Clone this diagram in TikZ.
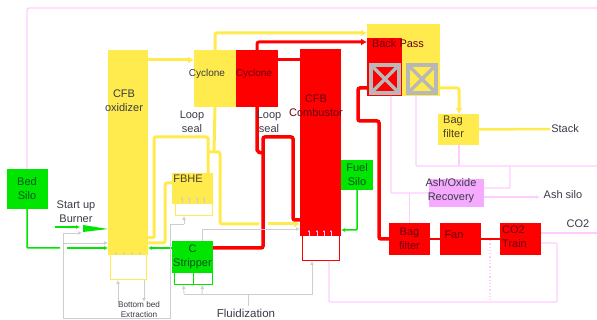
\documentclass[tikz,border=0pt]{standalone}
\usepackage{xcolor}
\usepackage{fontspec}
\usetikzlibrary{arrows.meta}
\setmainfont{Liberation Sans}
\definecolor{pipeyellow}{HTML}{FFEB4D}
\definecolor{pipered}{HTML}{FF0000}
\definecolor{pipegreen}{HTML}{00E600}
\definecolor{pipepink}{HTML}{FFCCFF}
\definecolor{ashpink}{HTML}{F5AAFF}
\definecolor{hxgray}{HTML}{B8B8B8}
\definecolor{airgray}{HTML}{CDCDD2}
\definecolor{labelgray}{HTML}{3A3A48}
\definecolor{labelred}{HTML}{6A0010}
\definecolor{labelyellow}{HTML}{4A4020}
\definecolor{labelgreen}{HTML}{0A5020}
\tikzset{
  unit/.style={draw=none, minimum width=#1, inner sep=0pt, outer sep=0pt, align=center, text=labelgray, font=\fontsize{11}{14}\selectfont},
  base/.style={fill=white, line width=1pt, inner sep=0pt, outer sep=0pt},
  exch/.style={draw=hxgray, line width=3.5pt, minimum size=28pt, inner sep=0pt, outer sep=0pt},
  hxcross/.style={draw=hxgray, line width=3.5pt},
  txt/.style={text=labelgray, inner sep=0pt, align=center, font=\fontsize{11}{14}\selectfont},
  tip/.style={-{Latex[length=6pt,width=7pt]}},
  yellowpipe/.style={draw=pipeyellow, line width=3pt, rounded corners=2pt},
  redpipe/.style={draw=pipered, line width=3.5pt, rounded corners=2pt},
  greenpipe/.style={draw=pipegreen, line width=1.5pt, rounded corners=1pt},
  pinkpipe/.style={draw=pipepink, line width=1.3pt, rounded corners=1pt},
  airline/.style={draw=airgray, line width=0.8pt},
  airtip/.style={-{Latex[length=4pt,width=4pt]}},
  nozzle/.style={-{Latex[length=2pt,width=2pt]}, draw=airgray, line width=0.6pt}
}
\begin{document}
\begin{tikzpicture}[x=1pt,y=-1pt]
\useasboundingbox (0,0) rectangle (597,320);

% pink lines go first, everything else sits on them
\node[unit=41pt, fill=pipegreen, minimum height=40pt, text=labelgreen] (bedsilo) at (27,189) {Bed\\Silo};
\draw[pinkpipe, rounded corners=2pt] (bedsilo.north) -- (27,8) -- (597,8);

% main units
\node[unit=40pt, fill=pipeyellow, minimum height=205pt] (oxidizer) at (128,152.5) {};
\node[base, draw=pipeyellow, minimum width=36pt, minimum height=25pt] (oxbase) at (128,267.5) {};
\node[unit=42pt, fill=pipeyellow, minimum height=57pt] (cycloneox) at (215,78.5) {};
\node[unit=42pt, fill=pipered, minimum height=57pt] (cyclonefr) at (257,78.5) {};
\node[unit=41pt, fill=pipered, minimum height=187pt] (combustor) at (320.5,142.5) {};
\node[base, draw=pipered, minimum width=37pt, minimum height=25pt] (frbase) at (320.5,248.5) {};
\node[unit=41pt, fill=pipeyellow, minimum height=31pt] (fbhe) at (192.5,188.5) {};
\node[base, draw=pipeyellow, minimum width=37pt, minimum height=12pt] (fbhebase) at (193.5,210) {};
\node[unit=41pt, fill=pipegreen, minimum height=32pt, text=labelgreen] (stripper) at (192.5,257) {C\\Stripper};
\node[base, draw=pipegreen, minimum width=19pt, minimum height=12pt] (stripbasea) at (183.5,279) {};
\node[base, draw=pipegreen, minimum width=19pt, minimum height=12pt] (stripbaseb) at (202.5,279) {};
\node[unit=32pt, fill=pipegreen, minimum height=30pt, text=labelgreen] (fuelsilo) at (357,175) {Fuel\\Silo};

% back pass
\node[unit=73pt, fill=pipeyellow, minimum height=72pt] (backpass) at (403.5,60) {};
\node[unit=35pt, fill=pipered, minimum height=58pt] (backred) at (384.5,67) {};
\node[exch, fill=pipered] (hxfr) at (385,79) {};
\node[exch, fill=pipeyellow] (hxox) at (422,79) {};
\draw[hxcross] (hxfr.north west) -- (hxfr.south east) (hxfr.north east) -- (hxfr.south west);
\draw[hxcross] (hxox.north west) -- (hxox.south east) (hxox.north east) -- (hxox.south west);

% flue gas train
\node[unit=41pt, fill=pipeyellow, minimum height=31pt] (bagox) at (458.5,129.5) {};
\node[unit=41pt, fill=pipered, minimum height=32pt, text=labelred] (bagfr) at (409.5,239) {Bag\\filter};
\node[unit=41pt, fill=pipered, minimum height=32pt] (fan) at (460.5,239) {};
\node[unit=41pt, fill=pipered, minimum height=32pt] (train) at (520.5,239) {};
\node[unit=55pt, fill=ashpink, minimum height=28pt] (ashbox) at (456.5,193) {};

% yellow circuit
\draw[yellowpipe, tip] (oxidizer.east |- 0,60) -- (cycloneox.west |- 0,60);
\draw[yellowpipe, tip] (cycloneox.north) |- (backpass.west |- 0,33);
\draw[yellowpipe] (cycloneox.south) -- (214,152);
\draw[yellowpipe] (154,238) -- (154,137) -- (208,137) -- (208,173);
\draw[yellowpipe] (oxidizer.east |- 0,238) -- (154,238);
\draw[yellowpipe] (oxidizer.east |- 0,243) -- (165,243) -- (165,183) -- (fbhe.west |- 0,183);
\draw[yellowpipe] (208,152) -- (220,152) -- (220,224) -- (259,224);
\draw[yellowpipe, tip] (268,224) -- (combustor.west |- 0,224);
\draw[yellowpipe, tip] (backpass.east |- 0,88) -- (459,88) -- (459,114);
\draw[yellowpipe, line width=2.5pt] (bagox.east) -- (550,129) coordinate (stackend);

% red circuit
\draw[redpipe, line width=3pt] (combustor.west |- 0,60) -- (cyclonefr.east |- 0,60);
\draw[redpipe, line width=3pt, tip] (cyclonefr.north) -- (257,42) -- (backpass.west |- 0,42);
\draw[redpipe] (cyclonefr.south) -- (257,152) -- (263,153);
\draw[redpipe] (stripper.east |- 0,248) -- (263,248) -- (263,137) -- (293,137) -- (293,220) -- (combustor.west |- 0,220);
\draw[redpipe] (backred.west |- 0,88) -- (358,88) -- (358,121) -- (379,121) -- (379,239) -- (bagfr.west |- 0,239);
\draw[redpipe, line width=2.5pt] (bagfr.east) -- (fan.west);
\draw[redpipe, line width=2.5pt] (fan.east) -- (train.west);

% green feeds
\draw[greenpipe] (bedsilo.south) -- (27,248) -- (60,248);
\draw[greenpipe, airtip] (67,248) -- (oxidizer.west |- 0,248);
\draw[greenpipe, airtip] (stripper.west |- 0,248) -- (oxidizer.east |- 0,248);
\draw[greenpipe, airtip] (fuelsilo.south) -- (357,230) -- (combustor.east |- 0,230);
\coordinate (burnerstart) at (55,227);
\coordinate (burnertip) at (108,229);
\draw[greenpipe, airtip] (burnerstart) -- (80,227);
\fill[pipegreen] (83,225) -- (burnertip) -- (83,232) -- cycle;

% pink ash lines
\draw[pinkpipe] (391,96) -- (391,193) -- (ashbox.west |- 0,193);
\draw[pinkpipe] (416,96) -- (416,166) -- (597,166);
\draw[pinkpipe] (bagox.south -| 459,0) -- (459,166);
\draw[pinkpipe] (510,166) -- (510,188) -- (ashbox.east |- 0,188);
\draw[pinkpipe] (bagfr.north) -- (409.5,193);
\draw[pinkpipe, airtip] (ashbox.east |- 0,197) -- (540,197);
\draw[pinkpipe] (train.east |- 0,233) -- (597,233);
\draw[pinkpipe] (train.east |- 0,243) -- (557,243) -- (557,302) -- (329,302) -- (329,261);
\draw[pinkpipe, dotted, line width=1.5pt] (490,240) -- (490,300);

% fluidization air
\draw[airline, airtip] (63,318) -- (63,233) -- (82,233);
\draw[airline, airtip] (63,243) -- (oxidizer.west |- 0,243);
\draw[airline] (63,318) -- (170,318) -- (170,224) -- (184,224);
\draw[airline, airtip] (184,224) -- (fbhebase.south -| 184,0);
\draw[airline, airtip] (202,241) -- (202,229) -- (combustor.west |- 0,229);
\draw[airline, airtip] (184,294) -- (stripbasea.south);
\draw[airline, airtip] (202,294) -- (stripbaseb.south);
\draw[airline, airtip] (184,294) -- (312,294) -- (frbase.south -| 312,0);
\draw[airline] (248,294) -- (248,306);
\draw[airline, airtip] (118,303) -- (oxbase.south -| 118,0);
\draw[airline, airtip] (144,280) -- (144,302);

% small nozzles
\foreach \nx in {182,189,197,204} \draw[nozzle] (\nx,203) -- (\nx,197);
\foreach \nx in {309,317,324,331} \draw[nozzle, draw=pipepink] (\nx,236) -- (\nx,230);
\foreach \nx in {116,124,132,140} \draw[nozzle] (\nx,255) -- (\nx,252);

% labels
\node[txt] (oxtext) at (124,101) {CFB\\oxidizer};
\node[txt, font=\fontsize{10}{12}\selectfont] (cycoxtext) at (207,74) {Cyclone};
\node[txt, text=labelred, font=\fontsize{10}{12}\selectfont] (cycfrtext) at (254,74) {Cyclone};
\node[txt] (looptexta) at (192,122) {Loop\\seal};
\node[txt] (looptextb) at (269,122) {Loop\\seal};
\node[txt, text=labelred] (frtext) at (316,106) {CFB\\Combustor};
\node[txt, text=labelred] (backtext) at (398,44) {Back Pass};
\node[txt, text=labelyellow, align=left, anchor=west] (bagoxtext) at (443,127) {Bag\\filter};
\node[txt] (stack) at (565,129) {Stack};
\node[txt] (ashtext) at (451,191) {Ash/Oxide\\Recovery};
\node[txt] (ashsilo) at (563,195) {Ash silo};
\node[txt] (co2) at (578,224) {CO2};
\node[txt, text=labelred] (fantext) at (454,235) {Fan};
\node[txt, text=labelred, align=left, anchor=west] (traintext) at (502,237) {CO2\\Train};
\node[txt] (burner) at (76,212) {Start up\\Burner};
\node[txt, text=labelyellow] (fbhetext) at (188,179) {FBHE};
\node[txt, font=\fontsize{8.2}{9.8}\selectfont] (extraction) at (139,309.5) {Bottom bed\\Extraction};
\node[txt, font=\fontsize{11.5}{14}\selectfont] (fluid) at (246,313) {Fluidization};
\end{tikzpicture}
\end{document}
